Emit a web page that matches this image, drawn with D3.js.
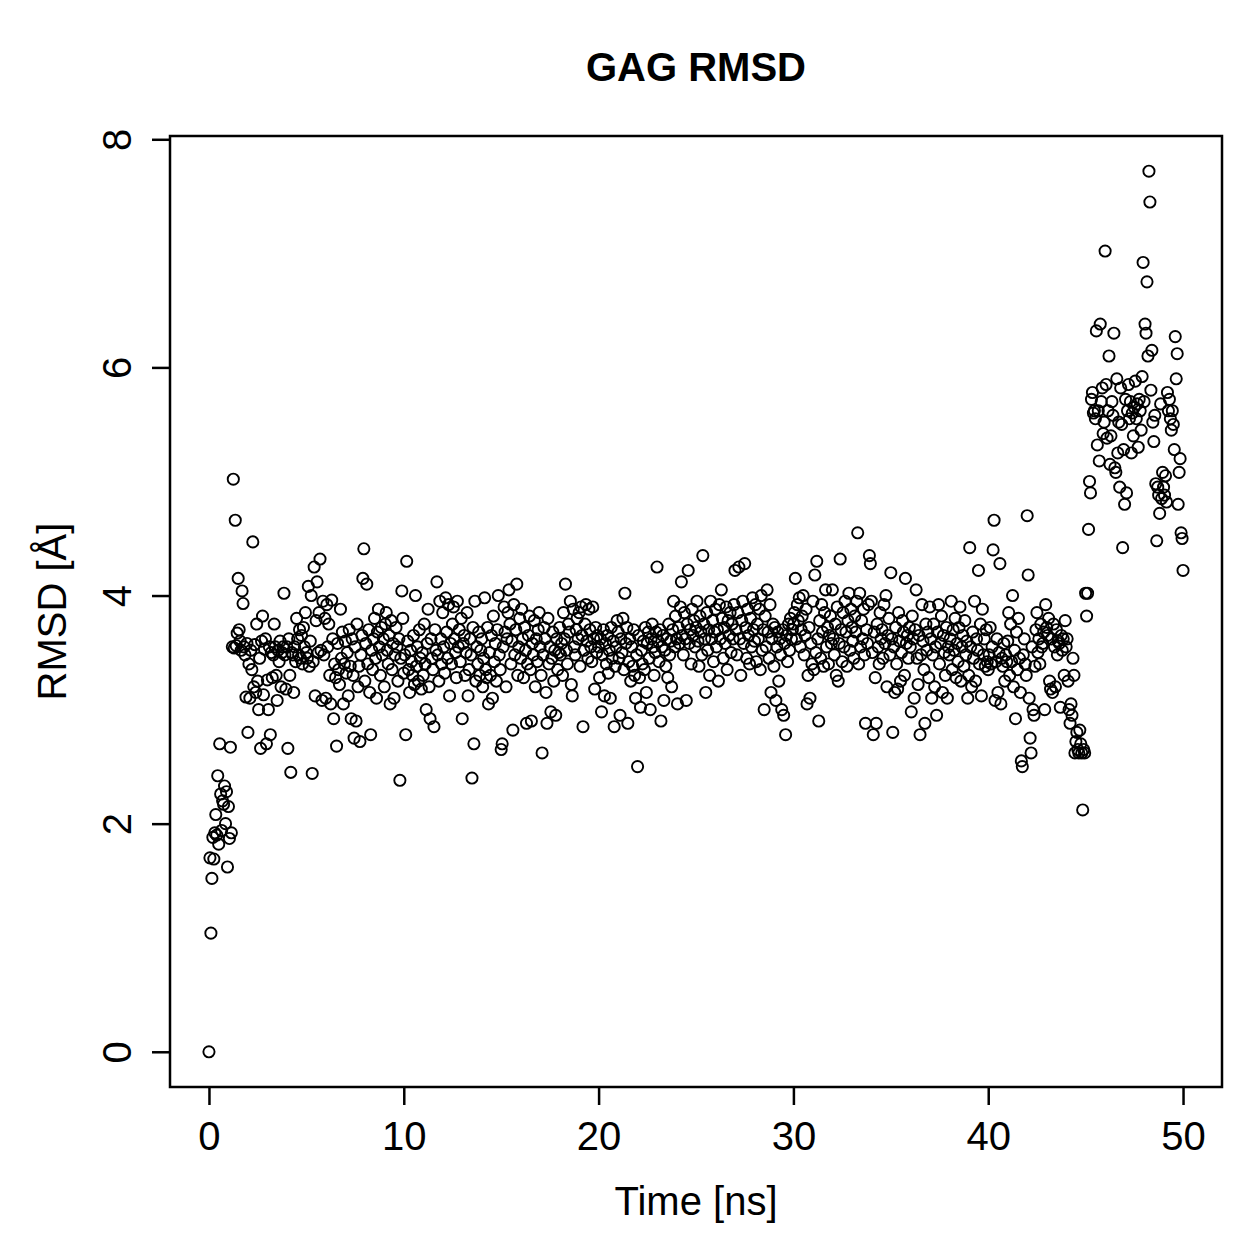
<!DOCTYPE html>
<html>
<head>
<meta charset="utf-8">
<script src="https://cdn.jsdelivr.net/npm/d3@7"></script>
<style>
  html, body { margin: 0; padding: 0; background: #fff; }
  svg { display: block; }
  text { font-family: "Liberation Sans", Arial, Helvetica, sans-serif; fill: #000; }
</style>
</head>
<body>
<script>
// ---- data (RMSD in Å, sampled every 0.05 ns from 0 to 50 ns) ----
const chartTitle = "GAG RMSD";
const xLabel = "Time [ns]";
const yLabel = "RMSD [Å]";
const timeStep = 0.05;
const xTicks = [0, 10, 20, 30, 40, 50];
const yTicks = [0, 2, 4, 6, 8];

const rmsd_00_05 = [
0.00,1.70,1.04,1.52,1.88,1.69,1.92,2.08,1.90,2.42,1.82,2.70,2.26,1.94,2.20,2.17,2.33,2.00,2.28,1.62,
2.15,1.87,2.67,1.92,3.55,5.02,3.54,4.66,3.56,3.67,4.15,3.70,3.60,3.52,4.04,3.93,3.55,3.48,3.11,3.58,
2.80,3.40,3.10,3.52,3.35,4.47,3.20,3.57,3.15,3.75,3.25,3.00,3.45,2.66,3.60,3.82,3.13,3.53,3.62,2.70,
3.26,3.00,3.55,2.78,3.50,3.28,3.48,3.75,3.55,3.30,3.08,3.52,3.42,3.60,3.20,3.50,3.55,4.02,3.48,3.18,
3.55,2.66,3.62,3.30,2.45,3.50,3.48,3.15,3.55,3.42,3.80,3.62,3.48,3.70,3.45,3.65,3.40,3.72,3.55,3.85];
const rmsd_05_10 = [
3.50,3.45,4.08,3.38,3.60,4.00,2.44,3.42,4.25,3.12,3.78,4.12,3.50,3.85,4.32,3.52,3.08,3.95,3.48,3.80,
3.10,3.92,3.55,3.75,3.30,3.05,3.96,3.62,2.92,3.40,3.28,2.68,3.58,3.35,3.22,3.88,3.45,3.68,3.05,3.40,
3.60,3.32,3.50,3.12,3.70,3.38,2.92,3.62,3.30,2.75,3.55,2.90,3.75,3.20,3.38,2.72,3.48,3.65,4.15,4.41,
3.25,3.58,4.10,3.40,3.70,3.15,2.78,3.52,3.35,3.62,3.80,3.45,3.10,3.68,3.88,3.55,3.30,3.72,3.48,3.62,
3.20,3.75,3.85,3.52,3.40,3.65,3.05,3.78,3.35,3.58,3.10,3.48,3.72,3.55,3.25,3.62,2.38,3.45,4.04,3.80];
const rmsd_10_15 = [
3.32,3.48,2.78,4.30,3.60,3.35,3.15,3.52,3.42,3.30,3.65,3.22,4.00,3.38,3.55,3.25,3.70,3.45,3.18,3.50,
3.30,3.75,3.40,3.00,3.58,3.88,3.20,2.92,3.62,3.45,3.35,2.85,3.70,3.52,4.12,3.48,3.25,3.95,3.62,3.40,
3.85,3.55,3.32,3.98,3.68,3.45,3.92,3.12,3.58,3.40,3.75,3.90,3.62,3.50,3.28,3.95,3.55,3.70,3.42,3.80,
2.92,3.58,3.65,3.30,3.50,3.85,3.12,3.35,3.62,3.48,2.40,3.72,2.70,3.95,3.25,3.55,3.40,3.68,3.30,3.52,
3.62,3.20,3.45,3.98,3.35,3.28,3.72,3.05,3.50,3.30,3.65,3.10,3.82,3.42,3.58,3.25,3.70,4.00,3.48,3.35];
const rmsd_15_20 = [
2.65,2.70,3.55,3.90,3.68,3.20,3.62,3.85,4.05,3.75,3.40,3.60,2.82,3.92,3.48,3.70,4.10,3.30,3.55,3.80,
3.45,3.88,3.62,3.28,3.72,3.52,2.88,3.40,3.65,3.82,3.35,2.90,3.58,3.48,3.78,3.20,3.62,3.42,3.70,3.85,
3.55,3.30,2.62,3.48,3.72,3.62,3.15,2.88,3.80,3.40,3.55,2.98,3.45,3.68,3.25,3.52,2.95,3.62,3.35,3.50,
3.72,3.48,3.58,3.30,3.85,3.62,4.10,3.52,3.40,3.75,3.68,3.95,3.22,3.12,3.88,3.55,3.48,3.70,3.80,3.62,
3.85,3.38,3.90,3.65,2.85,3.52,3.75,3.92,3.60,3.45,3.88,3.70,3.55,3.42,3.90,3.62,3.18,3.72,3.50,3.65];
const rmsd_20_25 = [
3.55,3.28,3.62,2.98,3.48,3.70,3.12,3.58,3.40,3.65,3.32,3.52,3.10,3.72,3.45,3.60,2.85,3.38,3.55,3.78,
3.68,3.45,2.95,3.62,3.50,3.80,3.35,4.02,3.58,3.72,2.88,3.42,3.62,3.25,3.55,3.38,3.70,3.30,3.10,3.48,
2.50,3.65,3.28,3.02,3.52,3.40,3.60,3.35,3.72,3.15,3.58,3.68,3.45,3.00,3.62,3.75,3.55,3.30,3.50,3.68,
4.25,3.60,3.42,3.70,2.90,3.55,3.65,3.08,3.52,3.38,3.62,3.28,3.75,3.48,3.60,3.20,3.70,3.95,3.55,3.82,
3.62,3.05,3.72,3.58,3.90,4.12,3.65,3.48,3.85,3.62,3.08,3.75,4.22,3.58,3.70,3.40,3.88,3.65,3.78,3.55];
const rmsd_25_30 = [
3.72,3.95,3.60,3.38,3.82,3.68,3.48,4.35,3.75,3.62,3.15,3.85,3.52,3.70,3.30,3.95,3.62,3.78,3.42,3.68,
3.88,3.55,3.70,3.25,3.92,3.62,4.05,3.80,3.45,3.72,3.58,3.90,3.35,3.78,3.65,3.85,3.50,3.75,3.62,3.92,
4.22,3.70,3.48,3.85,4.25,3.62,3.30,3.78,3.95,3.58,4.28,3.72,3.45,3.88,3.65,3.40,3.80,3.55,3.98,3.70,
3.60,3.92,3.42,3.75,3.62,3.88,3.35,4.00,3.52,3.70,3.00,3.82,3.55,4.05,3.68,3.45,3.92,3.15,3.62,3.75,
3.38,3.72,3.08,3.55,3.68,3.25,3.62,3.48,3.00,3.70,2.95,3.58,2.78,3.65,3.42,3.75,3.52,3.80,3.62,3.70];
const rmsd_30_35 = [
3.75,3.85,4.15,3.62,3.92,3.78,3.98,3.55,3.70,3.82,4.00,3.48,3.65,3.88,3.05,3.30,3.72,3.10,3.58,3.40,
3.95,3.35,4.18,3.50,4.30,3.62,2.90,3.78,3.45,3.92,3.68,3.38,3.85,4.05,3.55,3.72,3.40,3.65,3.82,3.58,
4.05,3.62,3.48,3.75,3.30,3.90,3.25,3.58,4.32,3.70,3.42,3.85,3.55,3.95,3.68,3.38,3.78,4.02,3.52,3.88,
3.72,3.60,3.45,3.82,3.68,3.95,4.55,3.40,4.02,3.55,3.78,3.62,3.88,3.48,2.88,3.70,3.58,3.92,4.35,4.28,
3.95,3.50,2.78,3.68,3.28,2.88,3.75,3.55,3.40,3.85,3.62,3.70,3.45,3.92,3.58,4.00,3.20,3.65,3.80,3.48];
const rmsd_35_40 = [
4.20,3.62,2.80,3.55,3.15,3.72,3.40,3.18,3.85,3.60,3.25,3.50,3.78,3.68,3.30,4.15,3.58,3.65,3.45,3.72,
3.55,2.98,3.82,3.62,3.10,3.70,4.05,3.45,3.22,3.65,2.78,3.48,3.92,3.60,3.35,2.88,3.75,3.52,3.68,3.28,
3.90,3.62,3.10,3.48,3.75,3.20,3.55,2.95,3.68,3.92,3.40,3.58,3.82,3.15,3.65,3.50,3.30,3.72,3.10,3.55,
3.48,3.62,3.95,3.35,3.70,3.52,3.80,3.28,3.58,3.42,3.72,3.90,3.25,3.55,3.65,3.38,3.78,3.48,3.60,3.10,
3.30,4.42,3.55,3.20,3.68,3.45,3.95,3.25,3.62,3.52,4.22,3.40,3.75,3.12,3.88,3.48,3.62,3.38,3.70,3.42];
const rmsd_40_45 = [
3.35,3.48,3.72,3.40,3.55,4.40,4.66,3.08,3.42,3.62,3.15,3.50,4.28,3.05,3.45,3.38,3.58,3.25,3.48,3.42,
3.60,3.85,3.30,3.75,3.42,4.00,3.20,3.52,2.92,3.68,3.35,3.80,3.45,3.15,2.55,2.50,3.48,3.62,3.40,3.30,
4.70,4.18,3.10,2.75,2.62,3.55,3.00,2.95,3.38,3.70,3.85,3.50,3.62,3.40,3.75,3.55,3.58,3.68,3.00,3.92,
3.72,3.65,3.80,3.25,3.18,3.62,3.15,3.75,3.55,3.20,3.70,3.48,3.60,3.58,3.02,3.65,3.52,3.62,3.30,3.78,
3.55,3.62,3.25,3.00,2.88,3.05,2.95,3.45,3.30,2.62,2.72,2.80,2.65,2.62,2.82,2.70,2.62,2.12,2.65,2.62];
const rmsd_45_50 = [
4.02,3.82,4.02,4.58,5.00,4.90,5.72,5.78,5.60,5.62,5.55,6.32,5.32,5.62,5.18,6.38,5.70,5.82,5.42,5.52,
7.02,5.85,5.38,5.62,6.10,5.15,5.40,5.70,5.58,6.30,5.12,5.08,5.90,5.25,5.52,4.95,5.82,5.50,4.42,5.28,
4.80,5.72,4.90,5.62,5.85,5.55,5.70,5.25,5.60,5.40,5.65,5.88,5.55,5.68,5.30,5.72,5.62,5.45,5.92,6.92,
5.70,6.38,6.30,6.75,6.10,7.72,7.45,5.80,6.15,5.52,5.35,5.58,4.98,4.48,4.95,4.88,4.72,5.68,4.85,5.08,
4.95,4.88,5.05,4.82,5.78,5.62,5.72,5.55,5.45,5.62,5.50,5.28,6.27,5.90,6.12,4.80,5.08,5.20,4.55,4.50,
4.22];

const rmsd = [].concat(rmsd_00_05, rmsd_05_10, rmsd_10_15, rmsd_15_20, rmsd_20_25,
                       rmsd_25_30, rmsd_30_35, rmsd_35_40, rmsd_40_45, rmsd_45_50);
const points = rmsd.map((v, i) => ({ t: +(i * timeStep).toFixed(2), v }));

// ---- layout ----
const W = 1259, H = 1259;
const box = { left: 170, right: 1222, top: 136, bottom: 1087 };
const fontSize = 40;

// R-style 4% axis extension
function extend(ext) { const d = (ext[1] - ext[0]) * 0.04; return [ext[0] - d, ext[1] + d]; }
const x = d3.scaleLinear().domain(extend(d3.extent(points, d => d.t))).range([box.left, box.right]);
const y = d3.scaleLinear().domain(extend(d3.extent(points, d => d.v))).range([box.bottom, box.top]);

const svg = d3.select("body").append("svg").attr("width", W).attr("height", H);
svg.append("rect").attr("width", W).attr("height", H).attr("fill", "#fff");

// points
svg.append("g").selectAll("circle").data(points).join("circle")
  .attr("cx", d => x(d.t)).attr("cy", d => y(d.v)).attr("r", 5.6)
  .attr("fill", "none").attr("stroke", "#000").attr("stroke-width", 1.9);

// box
svg.append("rect").attr("x", box.left).attr("y", box.top)
  .attr("width", box.right - box.left).attr("height", box.bottom - box.top)
  .attr("fill", "none").attr("stroke", "#000").attr("stroke-width", 2.5);

// x axis
const xAxis = d3.axisBottom(x).tickValues(xTicks).tickSize(18).tickPadding(8).tickFormat(d3.format("d"));
const gx = svg.append("g").attr("transform", `translate(0,${box.bottom})`).call(xAxis);
gx.select(".domain").remove();
gx.selectAll(".tick line").attr("stroke", "#000").attr("stroke-width", 2.5);
gx.selectAll(".tick text").attr("font-size", fontSize).attr("font-family", "Liberation Sans, Arial, sans-serif")
  .attr("fill", "#000").attr("dy", null).attr("y", 63);

// y axis
const yAxis = d3.axisLeft(y).tickValues(yTicks).tickSize(18).tickFormat(d3.format("d"));
const gy = svg.append("g").attr("transform", `translate(${box.left},0)`).call(yAxis);
gy.select(".domain").remove();
gy.selectAll(".tick line").attr("stroke", "#000").attr("stroke-width", 2.5);
gy.selectAll(".tick text").attr("font-size", fontSize).attr("font-family", "Liberation Sans, Arial, sans-serif")
  .attr("fill", "#000").attr("x", null).attr("dy", null)
  .attr("text-anchor", "middle").attr("transform", "translate(-39,0) rotate(-90)");

// title and labels
svg.append("text").attr("x", (box.left + box.right) / 2).attr("y", 81)
  .attr("text-anchor", "middle").attr("font-weight", "bold").attr("font-size", fontSize).text(chartTitle);
svg.append("text").attr("x", (box.left + box.right) / 2).attr("y", 1215)
  .attr("text-anchor", "middle").attr("font-size", fontSize).text(xLabel);
svg.append("text").attr("transform", `translate(66,${(box.top + box.bottom) / 2}) rotate(-90)`)
  .attr("text-anchor", "middle").attr("font-size", fontSize).text(yLabel);
</script>
</body>
</html>
